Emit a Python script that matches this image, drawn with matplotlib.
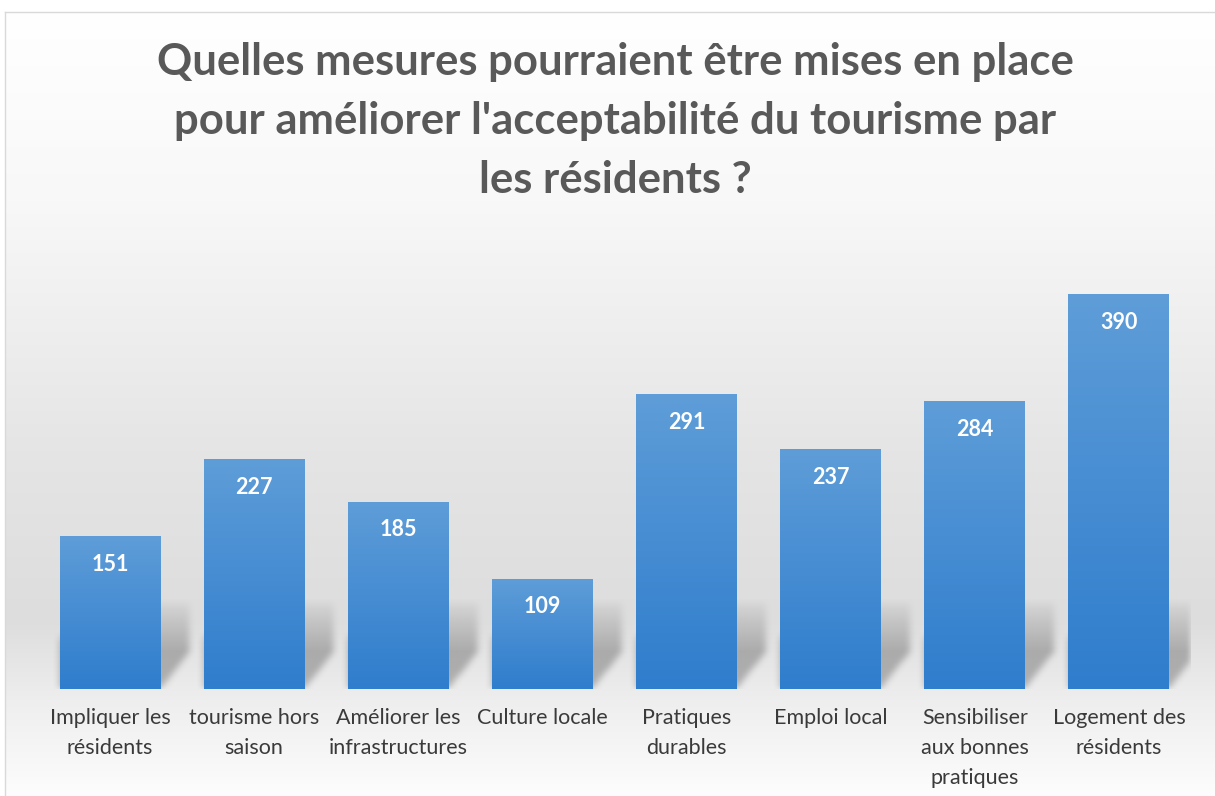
import numpy as np
import matplotlib
matplotlib.use("Agg")
import matplotlib.pyplot as plt

categories = ["Impliquer les\nrésidents", "tourisme hors\nsaison", "Améliorer les\ninfrastructures",
              "Culture locale", "Pratiques\ndurables", "Emploi local",
              "Sensibiliser\naux bonnes\npratiques", "Logement des\nrésidents"]
counts = [151, 227, 185, 109, 291, 237, 284, 390]
title = ("Quelles mesures pourraient être mises en place\n"
         "pour améliorer l'acceptabilité du tourisme par\n"
         "les résidents ?")

W, H = 1215, 796
plt.rcParams["font.family"] = ["Lato", "DejaVu Sans"]
fig = plt.figure(figsize=(W / 100, H / 100), dpi=100)

# background: soft vertical gray gradient inside a thin frame
bg = fig.add_axes([0, 0, 1, 1], zorder=-2)
ys = [0, 12, 200, 450, 620, 700, 796]
vs = [255, 255, 248, 229, 221, 238, 253]
col = np.interp(np.arange(H), ys, vs) / 255
img = np.tile(col[:, None], (1, W))
img[:12, :] = 1
img[:, :5] = 1
bg.imshow(np.dstack([img] * 3), aspect="auto", extent=[0, W, H, 0], interpolation="bilinear")
bg.plot([5, W], [12, 12], color="#d9d9d9", lw=1)
bg.plot([5, 5], [12, H], color="#d9d9d9", lw=1)
bg.set_xlim(0, W)
bg.set_ylim(H, 0)
bg.axis("off")

top_px = 689 - 400 * 1.0128
ax = fig.add_axes([38 / W, 1 - 689 / H, (1191 - 38) / W, (689 - top_px) / H])
ax.set_facecolor("none")
x = np.arange(len(counts))
bw = 0.70

# soft drop shadow: each bar swept up and to the right, then blurred
nx, ny = 1600, 260
gx = np.linspace(-0.5, 7.5, nx)
gy = np.linspace(0, 130, ny)
GX, GY = np.meshgrid(gx, gy)
dx, dy, hcap = 0.2, 36.0, 50.0
mask = np.zeros_like(GX, dtype=bool)
for tt in np.linspace(0, 1, 40):
    for i, v in zip(x, counts):
        mask |= ((np.abs(GX - (i + tt * dx)) <= bw / 2)
                 & (GY >= tt * dy) & (GY <= tt * dy + min(v, hcap)))
mask = mask.astype(float)
for _ in range(2):
    mask = np.apply_along_axis(lambda r: np.convolve(r, np.ones(11) / 11, mode="same"), 1, mask)
    mask = np.apply_along_axis(lambda c: np.convolve(c, np.ones(15) / 15, mode="same"), 0, mask)
fade = np.clip((92 - GY) / 55, 0, 1)
shadow = np.zeros((ny, nx, 4))
shadow[..., :3] = 0.4
shadow[..., 3] = 0.45 * mask * fade
ax.imshow(shadow, extent=[-0.5, 7.5, 0, 130], origin="lower", aspect="auto", zorder=1)

bars = ax.bar(x, counts, width=bw, color="#3d87d2", zorder=2)
top_c = np.array([0x5e, 0x9d, 0xd8]) / 255
bot_c = np.array([0x2f, 0x7d, 0xcd]) / 255
t = np.linspace(0, 1, 256)[:, None]
grad = (top_c * (1 - t) + bot_c * t)[:, None, :]
for b in bars:
    im = ax.imshow(grad, extent=[b.get_x(), b.get_x() + b.get_width(), 0, b.get_height()],
                   origin="upper", aspect="auto", zorder=3)
    im.set_clip_path(b)

for xi, v in zip(x, counts):
    ax.text(xi, v - 28, str(v), ha="center", va="center", color="white",
            fontsize=15.5, fontweight="bold", zorder=4)

ax.set_xlim(-0.5, 7.5)
ax.set_ylim(0, 400)
ax.set_xticks(x, categories, fontsize=15.5, color="#3a3a3a", linespacing=1.6)
ax.tick_params(axis="x", length=0, pad=14)
ax.set_yticks([])
for s in ax.spines.values():
    s.set_visible(False)

fig.text(615 / W, 1 - 121 / H, title, ha="center", va="center", fontsize=31.4,
         fontweight="bold", color="#595959", linespacing=1.58)

fig.savefig("out.png", dpi=100)
